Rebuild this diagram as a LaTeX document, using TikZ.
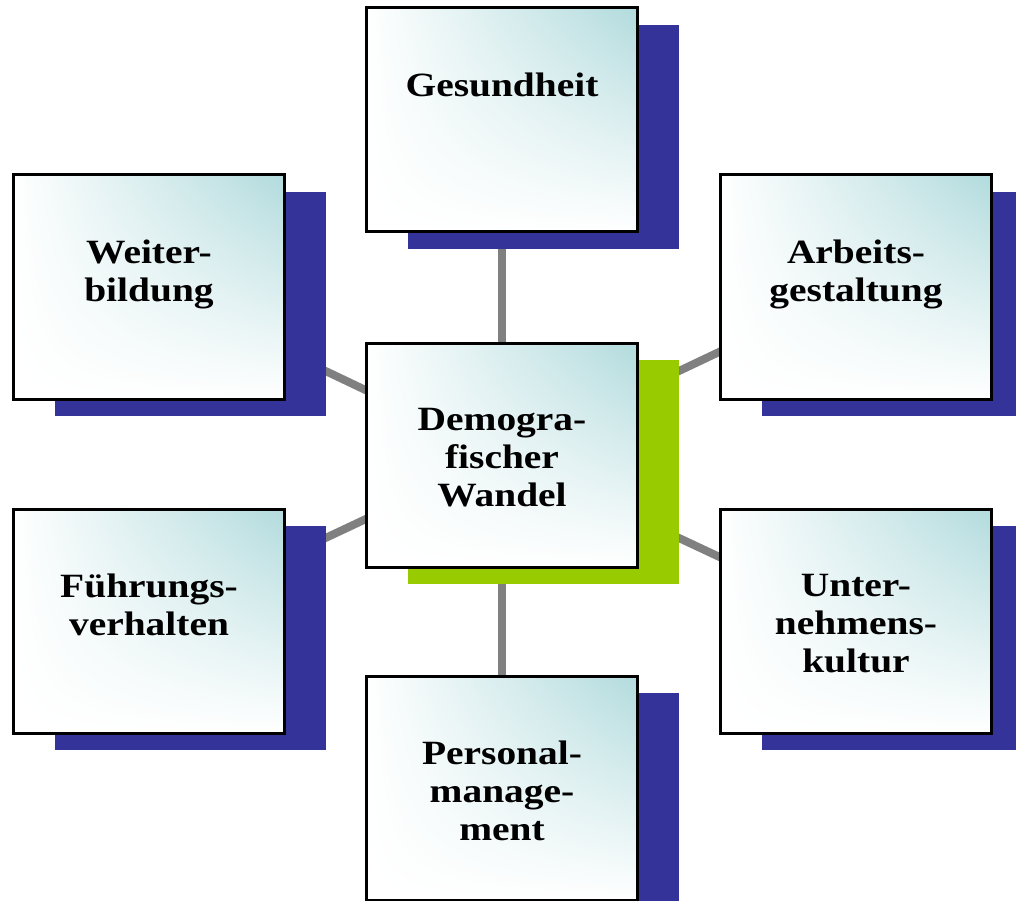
\documentclass[tikz,border=0pt]{standalone}
\usepackage{fontspec}
\usetikzlibrary{shadows,shadings,backgrounds}
\newfontfamily\boxfont[FakeStretch=1.16]{Liberation Serif}
\definecolor{shadowblue}{HTML}{333399}
\definecolor{shadowgreen}{HTML}{99CC00}
\definecolor{boxteal}{HTML}{B2DBDD}
\definecolor{linkgray}{HTML}{808080}
\newcommand{\boxlines}[1]{\parbox[c][224pt][t]{265pt}{\centering\vspace*{65pt}#1\par}}

\begin{document}
\begin{tikzpicture}[x=1pt,y=-1pt,inner sep=0pt,outer sep=0pt,
topicbox/.style={draw,rectangle,line width=3pt,minimum width=271pt,minimum height=224pt,
  shade,upper right=boxteal,upper left=white,lower left=white,lower right=white,
  font=\boxfont\bfseries\fontsize{34}{38}\selectfont,
  drop shadow={shadow xshift=41pt,shadow yshift=-17pt,opacity=1,fill=shadowblue}},
mainbox/.style={topicbox,
  drop shadow={shadow xshift=41pt,shadow yshift=-17pt,opacity=1,fill=shadowgreen}},
link/.style={draw=linkgray,line width=8pt}]

\useasboundingbox (0,0) rectangle (1016,901);

\draw (502,120) node[topicbox] (ges) {\boxlines{Gesundheit}};
\draw (149,287) node[topicbox] (weiter) {\boxlines{Weiter-\\bildung}};
\draw (856,287) node[topicbox] (arbeit) {\boxlines{Arbeits-\\gestaltung}};
\draw (149,621) node[topicbox] (fuehr) {\boxlines{Führungs-\\verhalten}};
\draw (856,621) node[topicbox] (kultur) {\boxlines{Unter-\\nehmens-\\kultur}};
\draw (502,788) node[topicbox] (personal) {\boxlines{Personal-\\manage-\\ment}};
\draw (502,455) node[mainbox] (wandel) {\boxlines{Demogra-\\fischer\\Wandel}};

% links behind the boxes
\begin{scope}[on background layer]
\draw[link] (wandel.center) -- (ges.center);
\draw[link] (wandel.center) -- (weiter.center);
\draw[link] (wandel.center) -- (arbeit.center);
\draw[link] (wandel.center) -- (fuehr.center);
\draw[link] (wandel.center) -- (kultur.center);
\draw[link] (wandel.center) -- (personal.center);
\end{scope}
\end{tikzpicture}
\end{document}
